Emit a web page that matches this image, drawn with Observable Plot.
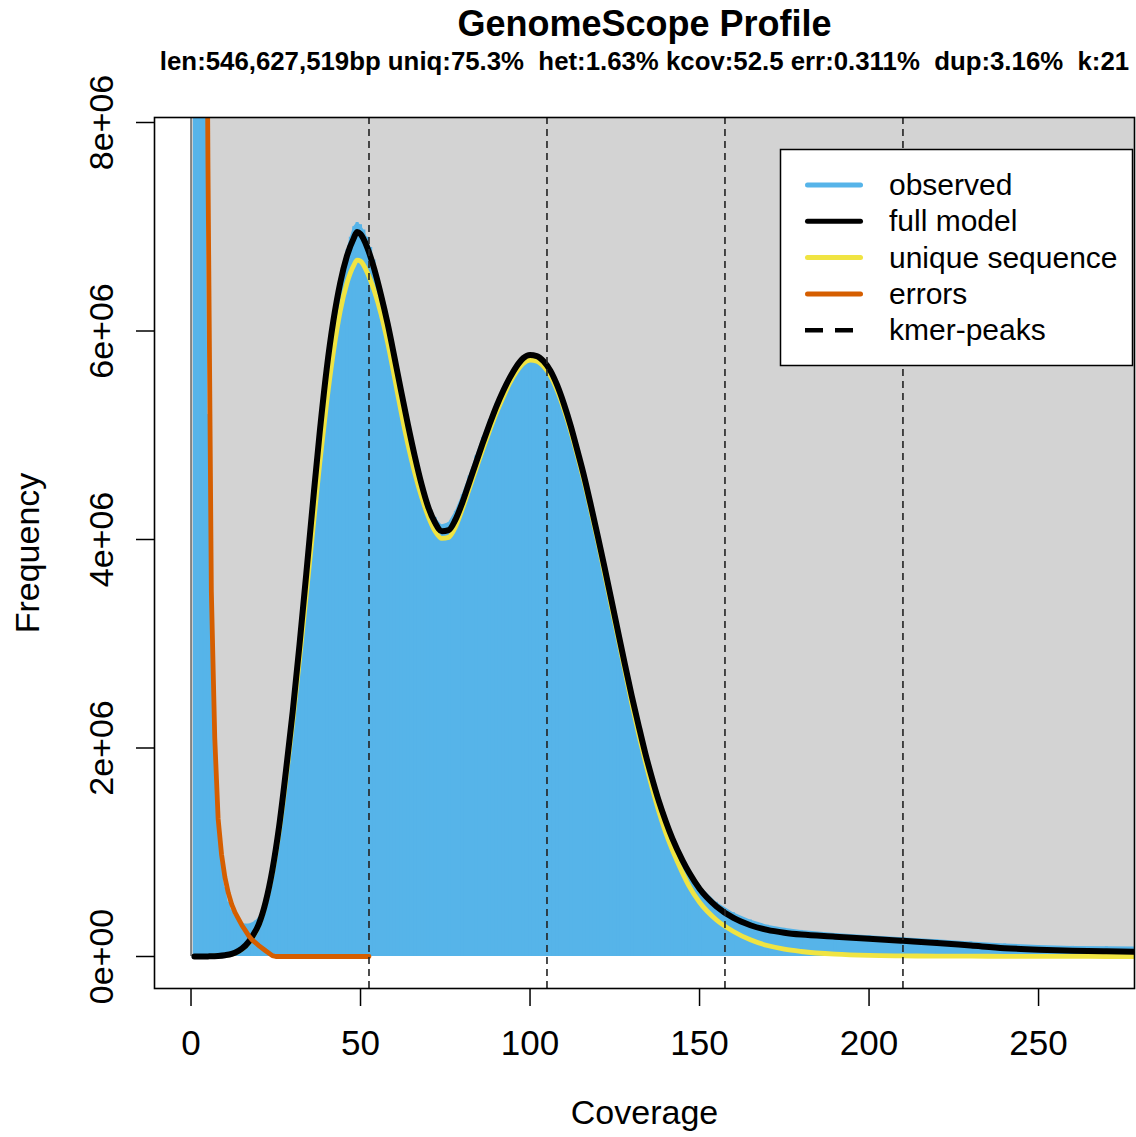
<!DOCTYPE html>
<html>
<head>
<meta charset="utf-8">
<script src="https://cdn.jsdelivr.net/npm/d3@7"></script>
<script src="https://cdn.jsdelivr.net/npm/@observablehq/plot@0.6"></script>
<style>
  body { margin: 0; background: #fff; }
  svg { display: block; }
  svg text { white-space: pre; }
</style>
</head>
<body>
<div id="chart"></div>
<script>
// ---------- data (frequencies in millions) ----------
const obsCov = [1,2,3,4,5,6,7,8,9,10,11,12,13,14,15,16,17,18,19,20,21,
  22,24,26,28,30,32,34,36,38,40,42,44,
  46,47,48,49,50,51,52,53,54,
  56,58,60,62,64,66,68,70,72,74,76,78,80,82,84,86,88,90,92,94,96,98,100,
  102,104,106,108,110,112,114,116,118,120,122,124,126,128,130,132,134,136,138,140,142,
  145,147,150,155,160,165,170,175,180,
  190,200,210,220,230,240,250,260,270,280];
const obsFreq = [300,50,19,9.5,5.2,3.0,1.9,1.25,0.88,0.66,0.52,0.44,0.38,0.34,0.32,0.31,0.31,0.32,0.34,0.37,0.43,
  0.54,0.85,1.26,1.78,2.35,2.99,3.67,4.37,5.05,5.65,6.12,6.5,
  6.78,6.9,7.0,7.04,7.02,6.97,6.9,6.8,6.68,
  6.4,6.1,5.77,5.44,5.12,4.83,4.56,4.35,4.21,4.14,4.16,4.27,4.43,4.61,4.8,4.98,5.15,5.31,5.45,5.57,5.68,5.75,5.78,
  5.76,5.71,5.62,5.48,5.3,5.09,4.85,4.6,4.32,4.03,3.73,3.42,3.11,2.8,2.5,2.22,1.95,1.71,1.49,1.3,1.13,
  0.93,0.82,0.68,0.52,0.42,0.35,0.3,0.27,0.25,
  0.22,0.2,0.18,0.16,0.14,0.12,0.105,0.097,0.093,0.09];

const modelCov = [1,3,5,8,10,12,14,15,17,18,
  20,22,24,26,28,30,32,34,36,38,40,42,44,46,48,49,
  50,52,54,56,58,60,62,64,66,68,70,72,74,76,78,80,82,84,86,88,90,92,94,96,98,100,
  102,104,106,108,110,112,114,116,118,120,122,124,126,128,130,132,134,136,138,140,142,
  145,147,150,155,160,165,170,175,180,
  190,200,210,220,230,240,250,260,270,280];
const fullModel = [0,0,0.001,0.005,0.012,0.025,0.055,0.075,0.14,0.19,
  0.31,0.52,0.83,1.25,1.78,2.35,2.99,3.67,4.37,5.04,5.63,6.1,6.46,6.72,6.89,6.95,
  6.93,6.8,6.6,6.35,6.07,5.75,5.42,5.1,4.8,4.53,4.31,4.16,4.08,4.09,4.19,4.35,4.54,4.73,4.92,5.1,5.27,5.42,5.55,5.66,5.74,5.77,
  5.76,5.71,5.62,5.48,5.3,5.09,4.85,4.6,4.32,4.03,3.73,3.42,3.11,2.8,2.5,2.22,1.95,1.71,1.49,1.3,1.13,
  0.92,0.8,0.65,0.48,0.37,0.3,0.255,0.228,0.21,
  0.19,0.17,0.15,0.13,0.105,0.08,0.065,0.055,0.05,0.045];
const uniqueSeq = [0,0,0.001,0.005,0.011,0.023,0.05,0.07,0.13,0.175,
  0.3,0.51,0.8,1.2,1.7,2.25,2.85,3.47,4.11,4.74,5.31,5.8,6.19,6.46,6.63,6.68,
  6.67,6.56,6.39,6.17,5.89,5.56,5.22,4.91,4.64,4.41,4.22,4.08,4.01,4.02,4.12,4.29,4.48,4.67,4.86,5.04,5.21,5.36,5.5,5.61,5.69,5.72,
  5.71,5.66,5.57,5.43,5.25,5.04,4.8,4.55,4.27,3.98,3.67,3.36,3.05,2.74,2.43,2.14,1.87,1.62,1.39,1.19,1.02,
  0.8,0.67,0.52,0.35,0.24,0.16,0.105,0.07,0.048,
  0.022,0.01,0.006,0.004,0.003,0.002,0.001,0.001,0,0];

const errCov  = [4,5,6,7,8,9,10,11,12,13,14,15,16,17,18,20,22,24,25,52.5];
const errFreq = [13,7.6,3.5,2.1,1.32,0.98,0.76,0.61,0.5,0.42,0.36,0.3,0.25,0.2,0.16,0.105,0.055,0.008,0,0];

const kmerPeaks = [52.5, 105, 157.5, 210];
const xTicks = [0, 50, 100, 150, 200, 250];
const yTicks = [0, 2e6, 4e6, 6e6, 8e6];
const yTickLabels = ["0e+00", "2e+06", "4e+06", "6e+06", "8e+06"];
const legendLabels = ["observed", "full model", "unique sequence", "errors", "kmer-peaks"];
const legendColors = ["#56B4E9", "#000000", "#F0E442", "#D55E00", "#000000"];
const titleText = "GenomeScope Profile";
const subtitleText = "len:546,627,519bp uniq:75.3%  het:1.63% kcov:52.5 err:0.311%  dup:3.16%  k:21";
const xLabel = "Coverage";
const yLabel = "Frequency";

// ---------- build tables ----------
const M = 1e6;
const obs = obsCov.map((c, i) => ({c, f: obsFreq[i] * M}));
const model = modelCov.map((c, i) => ({c, m: fullModel[i] * M, u: uniqueSeq[i] * M}));
const err = errCov.map((c, i) => ({c, f: errFreq[i] * M}));
const bg = [{x1: 0, x2: d3.max(obsCov) * 1.1, y1: 0, y2: d3.max(obsFreq) * M * 1.1}];

const font = "'Liberation Sans', Arial, Helvetica, sans-serif";

const chart = Plot.plot({
  width: 1136,
  height: 1137,
  marginLeft: 154,
  marginRight: 2,
  marginTop: 117,
  marginBottom: 149,
  style: {fontFamily: font, background: "#ffffff", color: "#000000", overflow: "visible"},
  x: {domain: [-10.77, 278.3]},
  y: {domain: [-0.307e6, 8.048e6]},
  marks: [
    Plot.rect(bg, {x1: "x1", x2: "x2", y1: "y1", y2: "y2", fill: "#D3D3D3", clip: true}),
    Plot.ruleX(bg, {x: "x1", y1: "y1", y2: "y2", stroke: "#333", strokeWidth: 1, clip: true}),
    Plot.areaY(obs, {x: "c", y: "f", fill: "#56B4E9", clip: true}),
    Plot.ruleX(obs, {x: "c", y1: 0, y2: "f", stroke: "#56B4E9", strokeWidth: 3, clip: true}),
    Plot.line(model, {x: "c", y: "u", stroke: "#F0E442", strokeWidth: 4.8, curve: "monotone-x", clip: true}),
    Plot.line(model, {x: "c", y: "m", stroke: "#000000", strokeWidth: 6, curve: "monotone-x", clip: true}),
    Plot.line(err, {x: "c", y: "f", stroke: "#D55E00", strokeWidth: 4.8, clip: true}),
    Plot.ruleX(kmerPeaks, {stroke: "#222", strokeWidth: 1.6, strokeDasharray: "7,5"}),
    Plot.frame({stroke: "#000", strokeWidth: 1.6}),
    Plot.axisX({ticks: xTicks, tickSize: 18, tickPadding: 24, fontSize: 35, label: null, strokeWidth: 1.5, tickFormat: d => String(d)}),
    Plot.axisY({ticks: yTicks, tickSize: 18, label: null, strokeWidth: 1.5, tickFormat: () => ""}),
    Plot.text(yTicks, {y: d => d, text: (d, i) => yTickLabels[i], frameAnchor: "left", dx: -42, rotate: -90, lineAnchor: "bottom", textAnchor: "middle", fontSize: 34}),
    Plot.text([yLabel], {text: d => d, frameAnchor: "left", dx: -126, rotate: -90, textAnchor: "middle", fontSize: 34}),
    Plot.text([xLabel], {text: d => d, frameAnchor: "bottom", dy: 135, lineAnchor: "bottom", fontSize: 34}),
    Plot.text([titleText], {text: d => d, frameAnchor: "top", dy: -82, lineAnchor: "bottom", fontSize: 36, fontWeight: "bold"}),
    Plot.text([subtitleText], {text: d => d, frameAnchor: "top", dy: -48, lineAnchor: "bottom", fontSize: 25.8, fontWeight: "bold"})
  ]
});

// ---------- legend ----------
const svg = d3.select(chart);
const lg = svg.append("g").attr("font-family", font).attr("text-anchor", "start");
lg.append("rect").attr("x", 780.5).attr("y", 149.5).attr("width", 352).attr("height", 216)
  .attr("fill", "#fff").attr("stroke", "#000").attr("stroke-width", 1.5);
legendLabels.forEach((lab, i) => {
  const y = 185 + i * 36.3;
  const dashed = i === 4;
  lg.append("line")
    .attr("x1", dashed ? 805 : 807.5).attr("x2", dashed ? 863 : 860.5)
    .attr("y1", y).attr("y2", y)
    .attr("stroke", legendColors[i]).attr("stroke-width", dashed ? 4.5 : 5)
    .attr("stroke-linecap", dashed ? "butt" : "round")
    .attr("stroke-dasharray", dashed ? "18,12" : null);
  lg.append("text").attr("x", 889).attr("y", y + 10).attr("font-size", 30)
    .attr("text-anchor", "start").attr("fill", "#000").text(lab);
});

document.getElementById("chart").appendChild(chart);
</script>
</body>
</html>
